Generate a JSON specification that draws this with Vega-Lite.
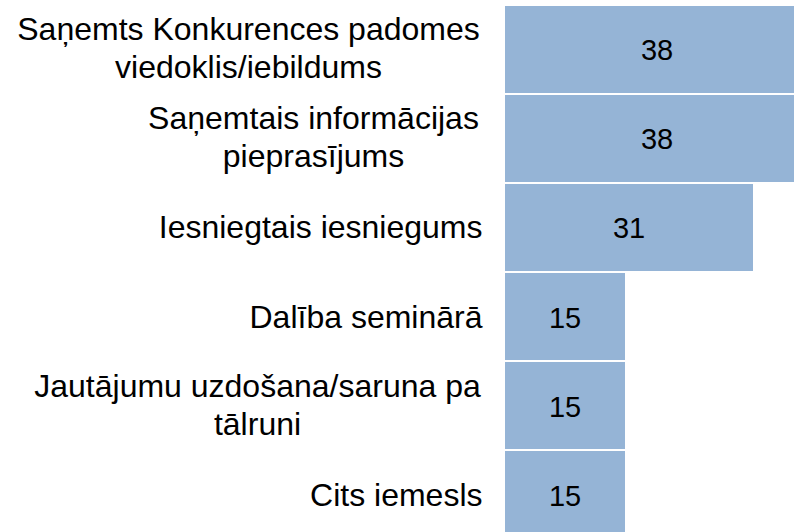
{
  "$schema": "https://vega.github.io/schema/vega-lite/v6.json",
  "width": 289,
  "height": 532,
  "autosize": "none",
  "padding": {"left": 505, "top": 0, "right": 0, "bottom": 0},
  "background": "white",
  "config": {"view": {"stroke": null}},
  "data": {
    "values": [
      {"label": "Saņemts Konkurences padomes|viedoklis/iebildums", "value": 38},
      {"label": "Saņemtais informācijas|pieprasījums", "value": 38},
      {"label": "Iesniegtais iesniegums", "value": 31},
      {"label": "Dalība seminārā", "value": 15},
      {"label": "Jautājumu uzdošana/saruna pa|tālruni", "value": 15},
      {"label": "Cits iemesls", "value": 15}
    ]
  },
  "encoding": {
    "y": {
      "field": "label",
      "type": "nominal",
      "sort": null,
      "scale": {"range": [6, 538], "paddingInner": 0.023, "paddingOuter": 0},
      "axis": {
        "title": null,
        "domain": false,
        "ticks": false,
        "labelFont": "Liberation Sans",
        "labelFontSize": 32,
        "labelColor": "#000000",
        "labelLimit": 0,
        "labelOverlap": false,
        "labelLineHeight": 38,
        "labelExpr": "split(datum.label, '|')",
        "labelAlign": {"condition": {"test": "indexof(datum.value, '|') >= 0", "value": "center"}, "value": "right"},
        "labelOffset": {"condition": {"test": "indexof(datum.value, '|') >= 0", "value": -19}, "value": 1},
        "labelPadding": {
          "condition": [
            {"test": "datum.value == 'Saņemts Konkurences padomes|viedoklis/iebildums'", "value": 257},
            {"test": "datum.value == 'Saņemtais informācijas|pieprasījums'", "value": 192},
            {"test": "datum.value == 'Jautājumu uzdošana/saruna pa|tālruni'", "value": 248}
          ],
          "value": 23
        }
      }
    }
  },
  "layer": [
    {
      "mark": {"type": "bar", "color": "#95B4D6", "clip": true},
      "encoding": {
        "x": {"field": "value", "type": "quantitative", "scale": {"domain": [0, 36.125], "nice": false}, "axis": null}
      }
    },
    {
      "mark": {"type": "text", "font": "Liberation Sans", "fontSize": 29, "color": "#000000", "baseline": "middle", "align": "center", "dy": 2},
      "encoding": {
        "x": {"field": "value", "type": "quantitative", "stack": "zero", "bandPosition": 0.5},
        "text": {"field": "value", "type": "quantitative"}
      }
    }
  ]
}
